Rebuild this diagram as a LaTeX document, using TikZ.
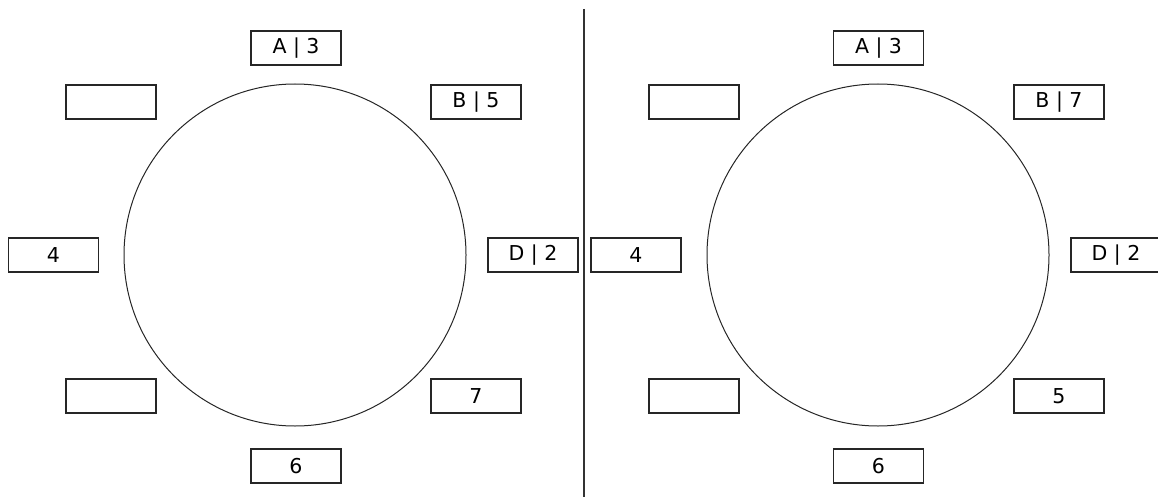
\documentclass[tikz,border=0pt]{standalone}
\usepackage{fontspec}
\setmainfont{DejaVu Sans}
\begin{document}
\begin{tikzpicture}[x=1pt,y=-1pt,
  seat/.style={draw=black!85,line width=1.3pt,minimum width=90pt,minimum height=34pt,inner sep=0pt,font=\fontsize{20.5}{22}\selectfont},
  table/.style={draw=black!85,line width=1pt,circle,minimum size=342pt,inner sep=0pt}]
\useasboundingbox (0,0) rectangle (1158,497);
\coordinate (top) at (584,9);
\coordinate (bot) at (584,497);
\draw[line width=1.6pt,black!80] (top) -- (bot);
% left panel
\node[table] (c1) at (295,255) {};
\node[seat] (l1) at (296,48) {A | 3};
\node[seat] (l2) at (111,102) {};
\node[seat] (l3) at (476,102) {B | 5};
\node[seat] (l4) at (53.5,255) {4};
\node[seat] (l5) at (533,255) {D | 2};
\node[seat] (l6) at (111,396) {};
\node[seat] (l7) at (476,396) {7};
\node[seat] (l8) at (296,466) {6};
% right panel
\node[table] (c2) at (878,255) {};
\node[seat] (r1) at (878.5,48) {A | 3};
\node[seat] (r2) at (694,102) {};
\node[seat] (r3) at (1059,102) {B | 7};
\node[seat] (r4) at (636,255) {4};
\node[seat] (r5) at (1116,255) {D | 2};
\node[seat] (r6) at (694,396) {};
\node[seat] (r7) at (1059,396) {5};
\node[seat] (r8) at (878.5,466) {6};
\end{tikzpicture}
\end{document}
